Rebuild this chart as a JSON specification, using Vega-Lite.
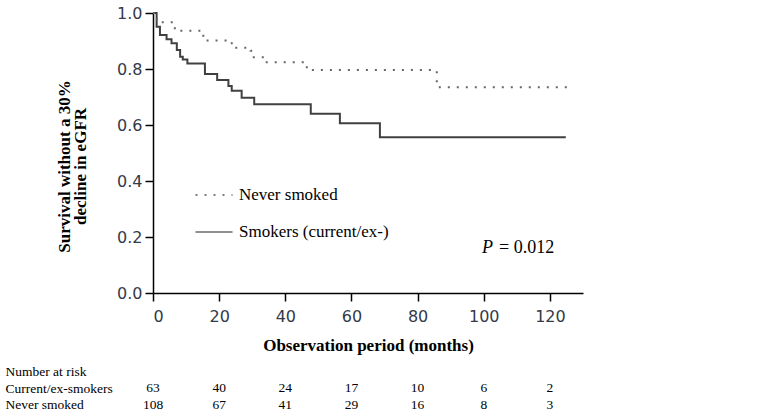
{
  "$schema": "https://vega.github.io/schema/vega-lite/v6.json",
  "padding": {"left": 5, "top": 5, "right": 5, "bottom": 0},
  "autosize": {"type": "pad"},
  "background": "white",
  "spacing": 10,
  "datasets": {
    "km": [
      {"group": "Smokers (current/ex-)", "month": 0, "surv": 1.0},
      {"group": "Smokers (current/ex-)", "month": 1.1, "surv": 0.951},
      {"group": "Smokers (current/ex-)", "month": 2.1, "surv": 0.921},
      {"group": "Smokers (current/ex-)", "month": 4.1, "surv": 0.906},
      {"group": "Smokers (current/ex-)", "month": 5.6, "surv": 0.892},
      {"group": "Smokers (current/ex-)", "month": 7.2, "surv": 0.868},
      {"group": "Smokers (current/ex-)", "month": 8.2, "surv": 0.844},
      {"group": "Smokers (current/ex-)", "month": 9.0, "surv": 0.834},
      {"group": "Smokers (current/ex-)", "month": 10.4, "surv": 0.82},
      {"group": "Smokers (current/ex-)", "month": 15.7, "surv": 0.782},
      {"group": "Smokers (current/ex-)", "month": 19.4, "surv": 0.761},
      {"group": "Smokers (current/ex-)", "month": 22.8, "surv": 0.739},
      {"group": "Smokers (current/ex-)", "month": 23.8, "surv": 0.722},
      {"group": "Smokers (current/ex-)", "month": 26.8, "surv": 0.697},
      {"group": "Smokers (current/ex-)", "month": 30.6, "surv": 0.674},
      {"group": "Smokers (current/ex-)", "month": 47.7, "surv": 0.64},
      {"group": "Smokers (current/ex-)", "month": 56.5, "surv": 0.606},
      {"group": "Smokers (current/ex-)", "month": 68.6, "surv": 0.556},
      {"group": "Smokers (current/ex-)", "month": 124.8, "surv": 0.556},
      {"group": "Never smoked", "month": 0, "surv": 1.0},
      {"group": "Never smoked", "month": 0.8, "surv": 0.978},
      {"group": "Never smoked", "month": 2.0, "surv": 0.967},
      {"group": "Never smoked", "month": 6.6, "surv": 0.937},
      {"group": "Never smoked", "month": 15.2, "surv": 0.902},
      {"group": "Never smoked", "month": 23.8, "surv": 0.876},
      {"group": "Never smoked", "month": 29.5, "surv": 0.865},
      {"group": "Never smoked", "month": 30.1, "surv": 0.842},
      {"group": "Never smoked", "month": 33.6, "surv": 0.824},
      {"group": "Never smoked", "month": 46.5, "surv": 0.796},
      {"group": "Never smoked", "month": 85.8, "surv": 0.735},
      {"group": "Never smoked", "month": 125.5, "surv": 0.735}
    ],
    "risk": [
      {"group": "Current/ex-smokers", "month": 0, "n": 63},
      {"group": "Current/ex-smokers", "month": 20, "n": 40},
      {"group": "Current/ex-smokers", "month": 40, "n": 24},
      {"group": "Current/ex-smokers", "month": 60, "n": 17},
      {"group": "Current/ex-smokers", "month": 80, "n": 10},
      {"group": "Current/ex-smokers", "month": 100, "n": 6},
      {"group": "Current/ex-smokers", "month": 120, "n": 2},
      {"group": "Never smoked", "month": 0, "n": 108},
      {"group": "Never smoked", "month": 20, "n": 67},
      {"group": "Never smoked", "month": 40, "n": 41},
      {"group": "Never smoked", "month": 60, "n": 29},
      {"group": "Never smoked", "month": 80, "n": 16},
      {"group": "Never smoked", "month": 100, "n": 8},
      {"group": "Never smoked", "month": 120, "n": 3}
    ]
  },
  "resolve": {"scale": {"x": "independent", "y": "independent"}},
  "vconcat": [
    {
      "width": 430,
      "height": 280,
      "layer": [
        {
          "data": {"name": "km"},
          "mark": {"type": "line", "interpolate": "step-after", "strokeWidth": 2},
          "encoding": {
            "x": {
              "field": "month", "type": "quantitative",
              "scale": {"domain": [0, 130], "nice": false},
              "axis": {
                "values": [0, 10, 20, 30, 40, 50, 60, 70, 80, 90, 100, 110, 120, 130],
                "labelExpr": "datum.value % 20 === 0 ? format(datum.value, 'd') : ''",
                "tickSize": {"condition": {"test": "datum.value % 20 === 0", "value": 8}, "value": 4},
                "title": "Observation period (months)",
                "titleFont": "Liberation Serif", "titleFontSize": 17, "titleFontWeight": "bold", "titleColor": "black",
                "titlePadding": 13,
                "labelFont": "DejaVu Sans", "labelFontSize": 16, "labelColor": "#333a4a", "labelPadding": 7,
                "domainColor": "black", "domainWidth": 1.5, "tickColor": "black", "tickWidth": 1.5,
                "grid": false
              }
            },
            "y": {
              "field": "surv", "type": "quantitative",
              "scale": {"domain": [0, 1], "nice": false},
              "axis": {
                "values": [0, 0.1, 0.2, 0.3, 0.4, 0.5, 0.6, 0.7, 0.8, 0.9, 1.0],
                "labelExpr": "round(datum.value * 10) % 2 === 0 ? format(datum.value, '.1f') : ''",
                "tickSize": {"condition": {"test": "round(datum.value * 10) % 2 === 0", "value": 8}, "value": 4},
                "title": ["Survival without a 30%", "decline in eGFR"],
                "titleFont": "Liberation Serif", "titleFontSize": 17, "titleFontWeight": "bold", "titleColor": "black",
                "titlePadding": 27, "titleLineHeight": 16, "titleY": 153,
                "labelFont": "DejaVu Sans", "labelFontSize": 16, "labelColor": "#333a4a", "labelPadding": 3,
                "domainColor": "black", "domainWidth": 1.5, "tickColor": "black", "tickWidth": 1.5,
                "grid": false
              }
            },
            "stroke": {
              "condition": {"test": "datum.group === 'Never smoked'", "value": "#666666"},
              "value": "#404040"
            },
            "strokeDash": {
              "field": "group", "type": "nominal",
              "scale": {"domain": ["Never smoked", "Smokers (current/ex-)"], "range": [[2, 7], [1, 0]]},
              "legend": {
                "orient": "none", "legendX": 42, "legendY": 163, "title": null,
                "symbolType": "stroke", "symbolSize": 1369, "symbolStrokeColor": "black", "symbolStrokeWidth": 1,
                "labelFont": "Liberation Serif", "labelFontSize": 17, "labelColor": "black",
                "labelOffset": 6, "rowPadding": 10, "padding": 0, "labelLimit": 300
              }
            }
          }
        },
        {
          "data": {"values": [{"label": "P"}]},
          "mark": {"type": "text", "font": "Liberation Serif", "fontSize": 18, "fontStyle": "italic", "align": "left", "baseline": "alphabetic", "color": "black"},
          "encoding": {
            "x": {"datum": 99.5, "type": "quantitative"},
            "y": {"datum": 0.144, "type": "quantitative"},
            "text": {"field": "label"}
          }
        },
        {
          "data": {"values": [{"label": "= 0.012"}]},
          "mark": {"type": "text", "font": "Liberation Serif", "fontSize": 18, "align": "left", "baseline": "alphabetic", "color": "black"},
          "encoding": {
            "x": {"datum": 104.6, "type": "quantitative"},
            "y": {"datum": 0.144, "type": "quantitative"},
            "text": {"field": "label"}
          }
        }
      ]
    },
    {
      "data": {"name": "risk"},
      "width": 430,
      "height": 50,
      "mark": {"type": "text", "font": "Liberation Serif", "fontSize": 13.5, "color": "black"},
      "encoding": {
        "x": {"field": "month", "type": "quantitative", "scale": {"domain": [0, 130], "nice": false}, "axis": null},
        "y": {
          "field": "group", "type": "nominal",
          "scale": {"domain": ["Number at risk", "Current/ex-smokers", "Never smoked"], "paddingInner": 0, "paddingOuter": 0},
          "axis": {
            "title": null, "domain": false, "ticks": false, "tickSize": 0,
            "labelAlign": "left", "labelPadding": 148,
            "labelFont": "Liberation Serif", "labelFontSize": 13.5, "labelColor": "black", "labelLimit": 300
          }
        },
        "text": {"field": "n", "type": "quantitative"}
      }
    }
  ],
  "config": {"view": {"stroke": null}, "axis": {"grid": false}}
}
